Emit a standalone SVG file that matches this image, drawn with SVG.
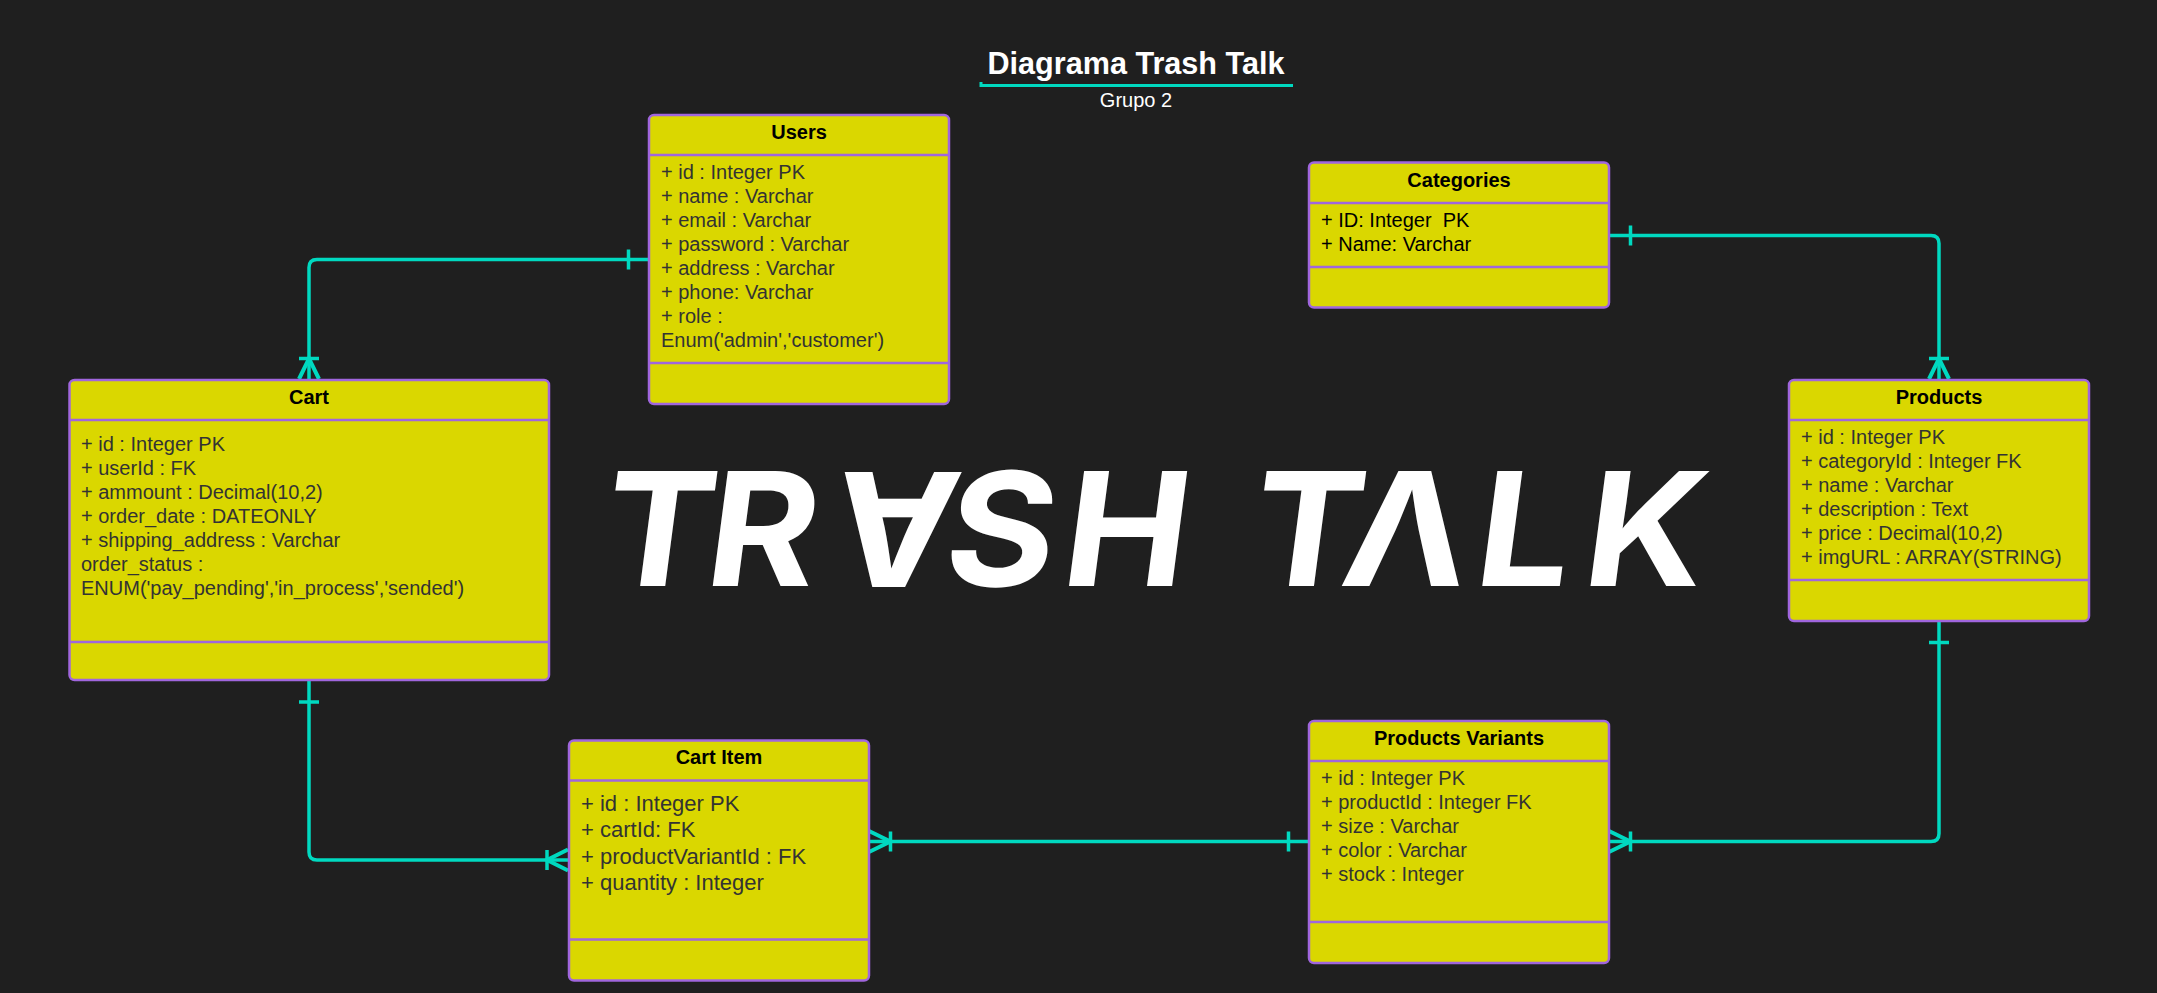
<svg xmlns="http://www.w3.org/2000/svg" width="2157" height="993" viewBox="0 0 2157 993">
<style>
.box{fill:#dad700;stroke:#a066dd;stroke-width:2.5}
.sep{stroke:#a066dd;stroke-width:2.5;fill:none}
.h{font:bold 20px "Liberation Sans",Arial,sans-serif;fill:#000;text-anchor:middle}
.b{font:20px "Liberation Sans",Arial,sans-serif;fill:#333}
.k{fill:#000}
.big{font-size:22px}
.c{fill:none;stroke:#00d9c0;stroke-width:3.500}
.f{stroke-width:4}
</style>
<rect width="2157" height="993" fill="#1f1f1f"/>
<g id="title">
<text x="1136" y="73.500" text-anchor="middle" style="font:bold 30.600px 'Liberation Sans',Arial,sans-serif" fill="#fff">Diagrama Trash Talk</text>
<path d="M981 82V85.500H1293" fill="none" stroke="#00d9c0" stroke-width="3"/>
<text x="1136" y="107" text-anchor="middle" style="font:20px 'Liberation Sans',Arial,sans-serif" fill="#fff">Grupo 2</text>
</g>
<g id="logo">
<text transform="translate(0,586) skewX(-7.500) scale(1.060,1)" y="0 0 -114 0 0 0 0 0 0 0" x="563 662 897 887 998 1130 1175 1262 1388 1490" rotate="0 0 180 0 0 0 0 0 0 0" style="font:700 158px Inter,'DejaVu Sans',sans-serif" fill="#fff">TRASH TΛLK</text>
</g>
<g id="connectors">
<path class="c" d="M649 259.500H317Q309 259.500 309 267.500V380"/>
<path class="c" d="M628.500 249.500v20M299 358.500h20"/><path class="c f" d="M299 379L309 358.500L319 379"/>
<path class="c" d="M1608 235.500H1931Q1939 235.500 1939 243.500V380"/>
<path class="c" d="M1630.500 225.500v20M1929 358.500h20"/><path class="c f" d="M1929 379L1939 358.500L1949 379"/>
<path class="c" d="M309 680V852Q309 860 317 860H569"/>
<path class="c" d="M299 702h20M547 850v20"/><path class="c f" d="M568 849.500L547 860L568 870.500"/>
<path class="c" d="M868 841.500H1309"/>
<path class="c" d="M1288.500 831.500v20M890.500 831.500v20"/><path class="c f" d="M869 831L890.500 841.500L869 852"/>
<path class="c" d="M1939 621V833.500Q1939 841.500 1931 841.500H1608"/>
<path class="c" d="M1929 642.500h20M1630.500 831.500v20"/><path class="c f" d="M1609 831L1630.500 841.500L1609 852"/>
</g>
<g id="users">
<rect class="box" x="649" y="115" width="300" height="289" rx="5"/>
<path class="sep" d="M649 155H949M649 363H949"/>
<text class="h" x="799" y="139">Users</text>
<text class="b" x="661" y="179">+ id : Integer PK</text>
<text class="b" x="661" y="203">+ name : Varchar</text>
<text class="b" x="661" y="227">+ email : Varchar</text>
<text class="b" x="661" y="251">+ password : Varchar</text>
<text class="b" x="661" y="275">+ address : Varchar</text>
<text class="b" x="661" y="299">+ phone: Varchar</text>
<text class="b" x="661" y="323">+ role :</text>
<text class="b" x="661" y="347">Enum('admin','customer')</text>
</g>
<g id="categories">
<rect class="box" x="1309" y="162.500" width="300" height="145" rx="5"/>
<path class="sep" d="M1309 203H1609M1309 267H1609"/>
<text class="h" x="1459" y="187">Categories</text>
<text class="b k" x="1321" y="227" xml:space="preserve">+ ID: Integer  PK</text>
<text class="b k" x="1321" y="251">+ Name: Varchar</text>
</g>
<g id="cart">
<rect class="box" x="69.500" y="380" width="479.500" height="300" rx="5"/>
<path class="sep" d="M69.500 420H549M69.500 642H549"/>
<text class="h" x="309" y="404">Cart</text>
<text class="b" x="81" y="451">+ id : Integer PK</text>
<text class="b" x="81" y="475">+ userId : FK</text>
<text class="b" x="81" y="499">+ ammount : Decimal(10,2)</text>
<text class="b" x="81" y="523">+ order_date : DATEONLY</text>
<text class="b" x="81" y="547">+ shipping_address : Varchar</text>
<text class="b" x="81" y="571">order_status :</text>
<text class="b" x="81" y="595">ENUM('pay_pending','in_process','sended')</text>
</g>
<g id="products">
<rect class="box" x="1789" y="380" width="300" height="241" rx="5"/>
<path class="sep" d="M1789 420H2089M1789 580H2089"/>
<text class="h" x="1939" y="404">Products</text>
<text class="b" x="1801" y="444">+ id : Integer PK</text>
<text class="b" x="1801" y="468">+ categoryId : Integer FK</text>
<text class="b" x="1801" y="492">+ name : Varchar</text>
<text class="b" x="1801" y="516">+ description : Text</text>
<text class="b" x="1801" y="540">+ price : Decimal(10,2)</text>
<text class="b" x="1801" y="564">+ imgURL : ARRAY(STRING)</text>
</g>
<g id="cart-item">
<rect class="box" x="569" y="740.500" width="300" height="240" rx="5"/>
<path class="sep" d="M569 780.500H869M569 939.500H869"/>
<text class="h" x="719" y="764">Cart Item</text>
<text class="b big" x="581" y="811">+ id : Integer PK</text>
<text class="b big" x="581" y="837">+ cartId: FK</text>
<text class="b big" x="581" y="864">+ productVariantId : FK</text>
<text class="b big" x="581" y="890">+ quantity : Integer</text>
</g>
<g id="products-variants">
<rect class="box" x="1309" y="721" width="300" height="242" rx="5"/>
<path class="sep" d="M1309 761H1609M1309 922H1609"/>
<text class="h" x="1459" y="745">Products Variants</text>
<text class="b" x="1321" y="785">+ id : Integer PK</text>
<text class="b" x="1321" y="809">+ productId : Integer FK</text>
<text class="b" x="1321" y="833">+ size : Varchar</text>
<text class="b" x="1321" y="857">+ color : Varchar</text>
<text class="b" x="1321" y="881">+ stock : Integer</text>
</g>
</svg>
